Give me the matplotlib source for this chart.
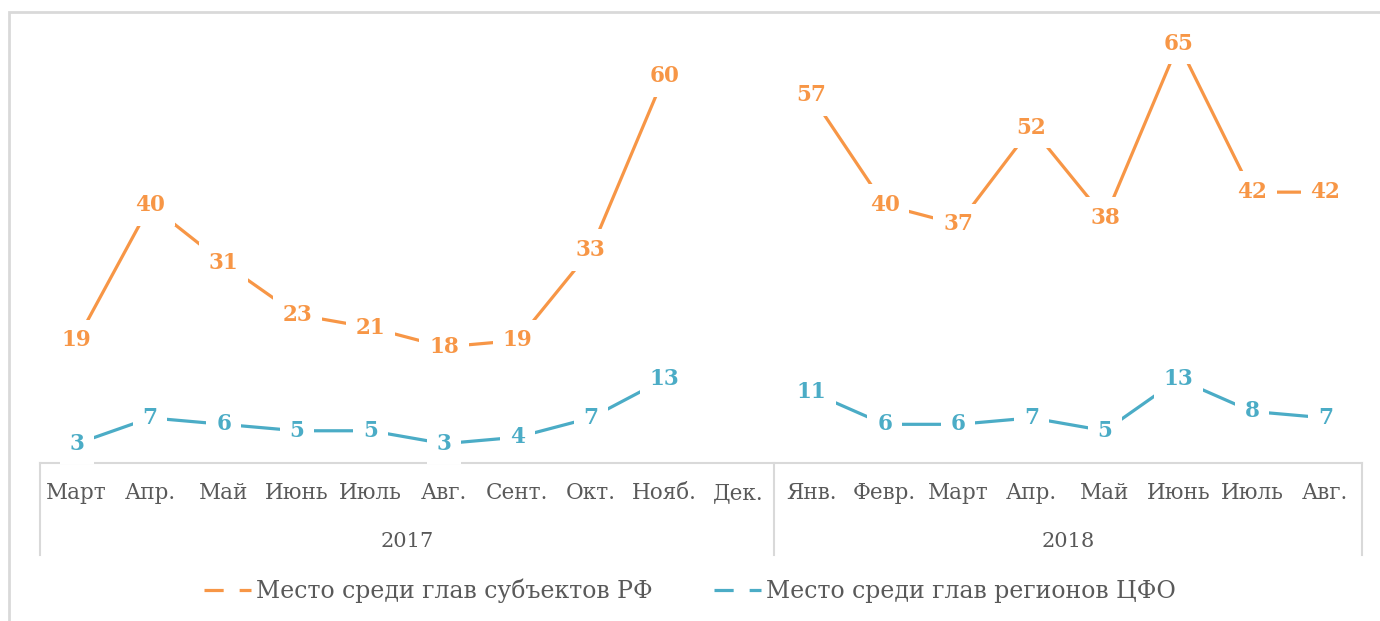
import numpy as np
import matplotlib.pyplot as plt
from matplotlib.lines import Line2D
from matplotlib.patches import Rectangle
import matplotlib.transforms as mtransforms

months = ["Март", "Апр.", "Май", "Июнь", "Июль", "Авг.", "Сент.", "Окт.", "Нояб.", "Дек.",
          "Янв.", "Февр.", "Март", "Апр.", "Май", "Июнь", "Июль", "Авг."]
years = ["2017", "2018"]
year_sizes = [10, 8]

rf_place = [19, 40, 31, 23, 21, 18, 19, 33, 60, np.nan,
            57, 40, 37, 52, 38, 65, 42, 42]
cfo_place = [3, 7, 6, 5, 5, 3, 4, 7, 13, np.nan,
             11, 6, 6, 7, 5, 13, 8, 7]

series_names = ["Место среди глав субъектов РФ", "Место среди глав регионов ЦФО"]
colors = ["#F79646", "#4BACC6"]
text_grey = "#595959"
line_grey = "#D9D9D9"

plt.rcParams["font.family"] = ["DejaVu Serif"]

fig = plt.figure(figsize=(13.8, 6.21), dpi=100)
ax = fig.add_axes([0.029, 0.2544, 0.958, 0.727])

x = np.arange(len(months))
for vals, col in zip([rf_place, cfo_place], colors):
    ax.plot(x, vals, color=col, lw=2.3, solid_capstyle="butt", zorder=2)
    for xi, v in zip(x, vals):
        if np.isnan(v):
            continue
        ax.text(xi, v, f"{int(v)}", color=col, fontsize=15.5, fontweight="bold",
                ha="center", va="center", zorder=3,
                bbox=dict(facecolor="white", edgecolor="none", pad=7))

ax.set_xlim(-0.5, len(months) - 0.5)
ax.set_ylim(0, 70)
ax.set_yticks([])
ax.set_xticks([])
for side in ["top", "right", "left"]:
    ax.spines[side].set_visible(False)
ax.spines["bottom"].set_color(line_grey)
ax.spines["bottom"].set_linewidth(1.5)

# multi-level category axis
trans = mtransforms.blended_transform_factory(ax.transData, ax.transAxes)
for xi, m in zip(x, months):
    ax.text(xi, -0.066, m, transform=trans, ha="center", va="center",
            fontsize=15.5, color=text_grey, clip_on=False)
start = -0.5
for yr, n in zip(years, year_sizes):
    ax.text(start + n / 2, -0.173, yr, transform=trans, ha="center", va="center",
            fontsize=15, color=text_grey, clip_on=False)
    start += n
bounds = np.cumsum([0] + year_sizes) - 0.5
for b in bounds:
    ax.plot([b, b], [0, -0.204], transform=trans, color=line_grey, lw=1.5,
            clip_on=False)

# outer frame of the chart
fig.patches.append(Rectangle((9 / 1380, -0.1), 1.2, 1 - 12 / 621 + 0.1,
                             transform=fig.transFigure, fill=False,
                             edgecolor=line_grey, lw=2))

handles = [Line2D([], [], color=c, lw=2.3, dashes=[6, 5]) for c in colors]
fig.legend(handles, series_names, loc="center", bbox_to_anchor=(0.5, 1 - 591 / 621),
           ncol=2, frameon=False, fontsize=17, labelcolor=text_grey,
           handlelength=2.0, handletextpad=0.2, columnspacing=2.6)

fig.savefig("out.png", dpi=100)
